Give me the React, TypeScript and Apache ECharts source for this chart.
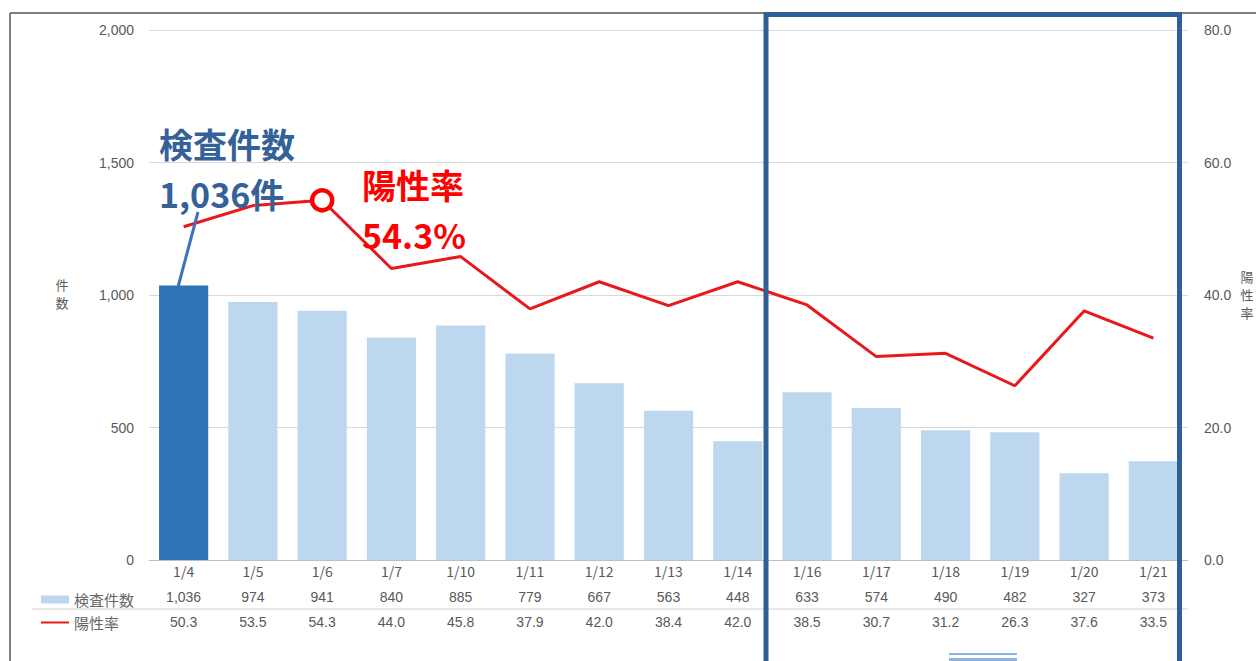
import React, { useEffect, useRef } from "react";
import * as echarts from "echarts";

const dates = ["1/4", "1/5", "1/6", "1/7", "1/10", "1/11", "1/12", "1/13", "1/14", "1/16", "1/17", "1/18", "1/19", "1/20", "1/21"];
const counts = [1036, 974, 941, 840, 885, 779, 667, 563, 448, 633, 574, 490, 482, 327, 373];
const rates = [50.3, 53.5, 54.3, 44.0, 45.8, 37.9, 42.0, 38.4, 42.0, 38.5, 30.7, 31.2, 26.3, 37.6, 33.5];
const leftAxisName = ["件", "数"];
const rightAxisName = ["陽", "性", "率"];
const highlightBarIndex = 0;
const highlightRateIndex = 2;

const fmtCount = (v: number) => v.toLocaleString("en-US");

export default function App() {
  const ref = useRef<HTMLDivElement>(null);
  useEffect(() => {
    if (!ref.current) return;
    const chart = echarts.init(ref.current, undefined, { renderer: "svg" });
    const grey = "#595959";
    const numFont = "Liberation Sans, Arial, sans-serif";
    const jpFont = "Noto Sans CJK JP, sans-serif";
    const nameChar = (ch: string, x: number, y: number) => ({
      type: "text",
      x,
      y,
      style: { text: ch, fill: grey, font: `13px ${jpFont}`, align: "center", verticalAlign: "middle" },
      z: 100,
    });
    const countNote = `検査件数\n${fmtCount(counts[highlightBarIndex])}件`;
    const rateNote = `陽性率\n${rates[highlightRateIndex].toFixed(1)}%`;
    chart.setOption({
      animation: false,
      backgroundColor: "#ffffff",
      grid: { left: 149, right: 68, top: 30, bottom: 101, containLabel: false },
      legend: {
        orient: "vertical",
        left: 35,
        top: 587,
        itemGap: 8,
        itemWidth: 28,
        itemHeight: 8,
        textStyle: { color: "#666666", fontSize: 15, fontFamily: jpFont },
        data: [
          { name: "検査件数", icon: "rect" },
          { name: "陽性率", itemStyle: { opacity: 0 } },
        ],
      },
      xAxis: [
        {
          type: "category",
          data: dates,
          position: "bottom",
          axisLine: { show: true, lineStyle: { color: "#bfbfbf", width: 1 } },
          axisTick: { show: false },
          axisLabel: { color: grey, fontSize: 14, fontFamily: jpFont, margin: 4 },
        },
        {
          type: "category",
          data: counts.map(fmtCount),
          position: "bottom",
          offset: 26,
          axisLine: { show: false },
          axisTick: { show: false },
          axisLabel: { color: grey, fontSize: 14, fontFamily: numFont, margin: 4 },
        },
        {
          type: "category",
          data: rates.map((v) => v.toFixed(1)),
          position: "bottom",
          offset: 51,
          axisLine: { show: false },
          axisTick: { show: false },
          axisLabel: { color: grey, fontSize: 14, fontFamily: numFont, margin: 4 },
        },
      ],
      yAxis: [
        {
          type: "value",
          min: 0,
          max: 2000,
          interval: 500,
          axisLine: { show: false },
          axisTick: { show: false },
          splitLine: { lineStyle: { color: "#d9d9d9", width: 1 } },
          axisLabel: { color: grey, fontSize: 14, fontFamily: numFont, margin: 15, formatter: (v: number) => fmtCount(v) },
        },
        {
          type: "value",
          min: 0,
          max: 80,
          interval: 20,
          axisLine: { show: false },
          axisTick: { show: false },
          splitLine: { show: false },
          axisLabel: { color: grey, fontSize: 14, fontFamily: numFont, margin: 16, formatter: (v: number) => v.toFixed(1) },
        },
      ],
      series: [
        {
          name: "検査件数",
          type: "bar",
          xAxisIndex: 0,
          yAxisIndex: 0,
          barCategoryGap: "29%",
          itemStyle: { color: "#bdd7ee" },
          data: counts.map((v, i) =>
            i === highlightBarIndex ? { value: v, itemStyle: { color: "#2e75b6" } } : v
          ),
        },
        {
          name: "陽性率",
          type: "line",
          xAxisIndex: 0,
          yAxisIndex: 1,
          symbol: "none",
          showSymbol: true,
          lineStyle: { color: "#e8181b", width: 3 },
          itemStyle: { color: "#e8181b" },
          data: rates.map((v, i) =>
            i === highlightRateIndex
              ? {
                  value: v,
                  symbol: "circle",
                  symbolSize: 20,
                  itemStyle: { color: "#ffffff", borderColor: "#ff0000", borderWidth: 4.5 },
                }
              : v
          ),
          z: 5,
        },
      ],
      graphic: [
        { type: "line", shape: { x1: 10, y1: 13, x2: 1256, y2: 13 }, style: { stroke: "#555555", lineWidth: 1.5 }, z: 90 },
        { type: "line", shape: { x1: 10, y1: 13, x2: 10, y2: 661 }, style: { stroke: "#555555", lineWidth: 1.5 }, z: 90 },
        { type: "line", shape: { x1: 32, y1: 609, x2: 1188, y2: 609 }, style: { stroke: "#d0d0d0", lineWidth: 1 }, z: 90 },
        ...leftAxisName.map((ch, i) => nameChar(ch, 62, 284 + i * 18)),
        ...rightAxisName.map((ch, i) => nameChar(ch, 1247, 276 + i * 18)),
        {
          type: "rect",
          shape: { x: 766, y: 14.5, width: 413.5, height: 700 },
          style: { fill: "none", stroke: "#2f5f96", lineWidth: 5 },
          z: 100,
        },
        { type: "line", shape: { x1: 949, y1: 654, x2: 1017, y2: 654 }, style: { stroke: "#8eb4e3", lineWidth: 2 }, z: 100 },
        { type: "line", shape: { x1: 949, y1: 659.5, x2: 1017, y2: 659.5 }, style: { stroke: "#8eb4e3", lineWidth: 3 }, z: 100 },
        { type: "line", shape: { x1: 198, y1: 212, x2: 178, y2: 287 }, style: { stroke: "#3d72b8", lineWidth: 3 }, z: 100 },
        {
          type: "text",
          left: 159,
          top: 118,
          style: {
            text: countNote,
            fill: "#336198",
            font: "bold 34px 'Noto Sans CJK JP', sans-serif",
            lineHeight: 50,
          },
          z: 100,
        },
        {
          type: "text",
          left: 362,
          top: 159,
          style: {
            text: rateNote,
            fill: "#ff0000",
            font: "bold 34px 'Noto Sans CJK JP', sans-serif",
            lineHeight: 50,
          },
          z: 100,
        },
      ],
    });
    return () => chart.dispose();
  }, []);
  return (
    <div
      ref={ref}
      style={{ position: "fixed", left: 0, top: 0, width: 1256, height: 661, background: "#fff" }}
    />
  );
}
